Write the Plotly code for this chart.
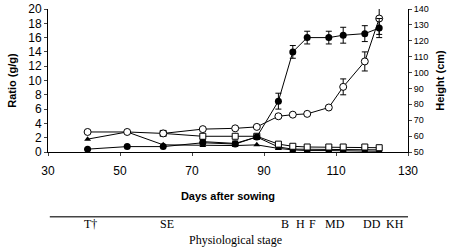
import plotly.graph_objects as go

# ---- data ----
days = [41, 52, 62, 73, 82, 88, 94, 98, 102, 108, 112, 118, 122]

# heights (cm), right axis
height_fc = [51.8, 53.4, 53.4, 55.8, 55.0, 59.5, 82, 113, 122, 122, 123.5, 124.5, 128]
height_fc_err = [0, 0, 0, 0, 0, 0, 5, 4, 4, 4, 5, 5, 6]
height_oc = [62.6, 62.6, 61.7, 64.4, 64.9, 65.8, 72.5, 73.5, 74, 78, 91, 107, 134]
height_oc_err = [0, 0, 0, 0, 0, 0, 1, 1, 1, 1, 5, 6, 10]

# ratios (g/g), left axis
days_sq = [62, 73, 82, 88, 94, 98, 102, 108, 112, 118, 122]
ratio_os = [2.6, 2.2, 2.2, 2.2, 1.1, 0.8, 0.7, 0.7, 0.7, 0.7, 0.6]
days_fs = [73, 82, 88, 94, 98, 102, 108, 112, 118, 122]
ratio_fs = [1.45, 1.2, 2.1, 0.7, 0.4, 0.4, 0.4, 0.4, 0.3, 0.3]
ratio_tri = [1.8, 2.8, 1.0, 0.9, 0.9, 1.0, 0.5, 0.3, 0.2, 0.2, 0.2, 0.1, 0.1]

x_ticks = [30, 50, 70, 90, 110, 130]
stage_labels = ["T†", "SE", "B", "H", "F", "MD", "DD", "KH"]
stage_days = [41.7, 63, 95.8, 100, 103.6, 109.7, 120, 126.4]

FONT = "Arial, Liberation Sans, sans-serif"
SERIF = "Times New Roman, Liberation Serif, serif"

fig = go.Figure()
line = dict(color="black", width=1)

fig.add_trace(go.Scatter(x=days, y=ratio_tri, mode="lines+markers", line=line,
                         marker=dict(symbol="triangle-up", size=6, color="black"), yaxis="y"))
fig.add_trace(go.Scatter(x=days_fs, y=ratio_fs, mode="lines+markers", line=line,
                         marker=dict(symbol="square", size=6, color="black"), yaxis="y"))
fig.add_trace(go.Scatter(x=days_sq, y=ratio_os, mode="lines+markers", line=line,
                         marker=dict(symbol="square", size=6, color="white",
                                     line=dict(color="black", width=1)), yaxis="y"))
fig.add_trace(go.Scatter(x=days, y=height_oc, mode="lines+markers", line=line, cliponaxis=False,
                         error_y=dict(type="data", array=height_oc_err, color="black", thickness=1, width=3),
                         marker=dict(symbol="circle", size=7, color="white",
                                     line=dict(color="black", width=1)), yaxis="y2"))
fig.add_trace(go.Scatter(x=days, y=height_fc, mode="lines+markers", line=line,
                         error_y=dict(type="data", array=height_fc_err, color="black", thickness=1, width=3),
                         marker=dict(symbol="circle", size=7, color="black"), yaxis="y2"))

fig.update_layout(
    width=454, height=248,
    margin=dict(l=48, r=46, t=9, b=96),
    paper_bgcolor="white", plot_bgcolor="white",
    showlegend=False,
    font=dict(family=FONT, size=11, color="black"),
    xaxis=dict(range=[30, 130], tickvals=x_ticks, showgrid=False, zeroline=False, automargin=False,
               showline=True, linecolor="black", linewidth=1, ticks="outside", ticklen=3,
               tickfont=dict(size=12), ticklabelstandoff=5,
               title=dict(text="<b>Days after sowing</b>", font=dict(size=11), standoff=14)),
    yaxis=dict(range=[0, 20], dtick=2, showgrid=False, zeroline=False, automargin=False,
               showline=True, linecolor="black", linewidth=1, ticks="outside", ticklen=3,
               tickfont=dict(size=12),
               title=dict(text="<b>Ratio (g/g)</b>", font=dict(size=11), standoff=9)),
    yaxis2=dict(range=[50, 140], dtick=10, overlaying="y", side="right", showgrid=False,
                automargin=False,
                zeroline=False, showline=True, linecolor="black", linewidth=1,
                ticks="outside", ticklen=3, tickfont=dict(size=9),
                title=dict(text="<b>Height (cm)</b>", font=dict(size=11), standoff=8)),
)

# physiological stage axis
fig.add_shape(type="line", xref="x", yref="paper", x0=30.5, x1=133, y0=-0.452, y1=-0.452,
              line=dict(color="#444444", width=1.5))
for lab, d in zip(stage_labels, stage_days):
    fig.add_annotation(x=d, y=-0.50, xref="x", yref="paper", text=lab, showarrow=False,
                       yanchor="middle", xanchor="center",
                       font=dict(family=SERIF, size=12, color="black"))
fig.add_annotation(x=82, y=-0.615, xref="x", yref="paper", text="Physiological stage",
                   showarrow=False, yanchor="middle", xanchor="center",
                   font=dict(family=SERIF, size=12, color="black"))

fig.write_html("out.html", config={"displayModeBar": False},
               post_script="document.body.style.margin='0';document.body.style.overflow='hidden';")
